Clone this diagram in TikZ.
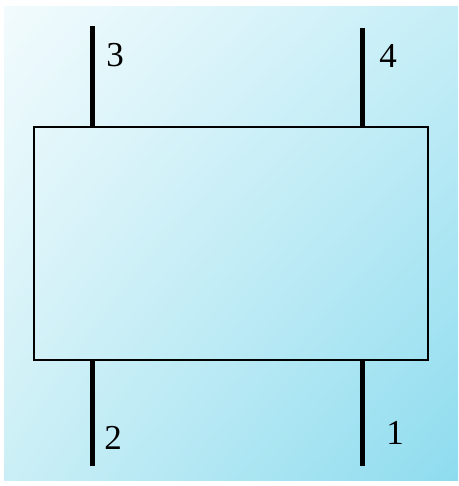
\documentclass[tikz,border=0pt]{standalone}
\usepackage{fontspec}
\setmainfont{Liberation Serif}
\usetikzlibrary{shadings}
\definecolor{bgUL}{HTML}{F2FBFD}
\definecolor{bgUR}{HTML}{C6EEF7}
\definecolor{bgLL}{HTML}{CBEFF6}
\definecolor{bgLR}{HTML}{8EDCEF}
\tikzset{
  lead/.style={line width=5pt},
  portlabel/.style={font=\fontsize{35}{40}\selectfont, inner sep=0pt}
}
\begin{document}
\begin{tikzpicture}[x=1pt, y=-1pt]
\useasboundingbox (0,0) rectangle (458,486);
\shade[upper left=bgUL, upper right=bgUR, lower left=bgLL, lower right=bgLR] (4,7) rectangle (458,480);
% two-port block
\node[draw, line width=2pt, inner sep=0pt, outer sep=0pt, minimum width=394pt, minimum height=232pt] (box) at (231,243.5) {};
\coordinate (t3) at (92.5,26);
\coordinate (t4) at (362.5,28);
\coordinate (b2) at (92.5,466);
\coordinate (b1) at (362.5,466);
\draw[lead] (t3) -- (t3 |- box.north);
\draw[lead] (t4) -- (t4 |- box.north);
\draw[lead] (b2) -- (b2 |- box.south);
\draw[lead] (b1) -- (b1 |- box.south);
% port numbers
\node[portlabel] (n3) at (115,55) {3};
\node[portlabel] (n4) at (388,56) {4};
\node[portlabel] (n2) at (113,438) {2};
\node[portlabel] (n1) at (395,433) {1};
\end{tikzpicture}
\end{document}
